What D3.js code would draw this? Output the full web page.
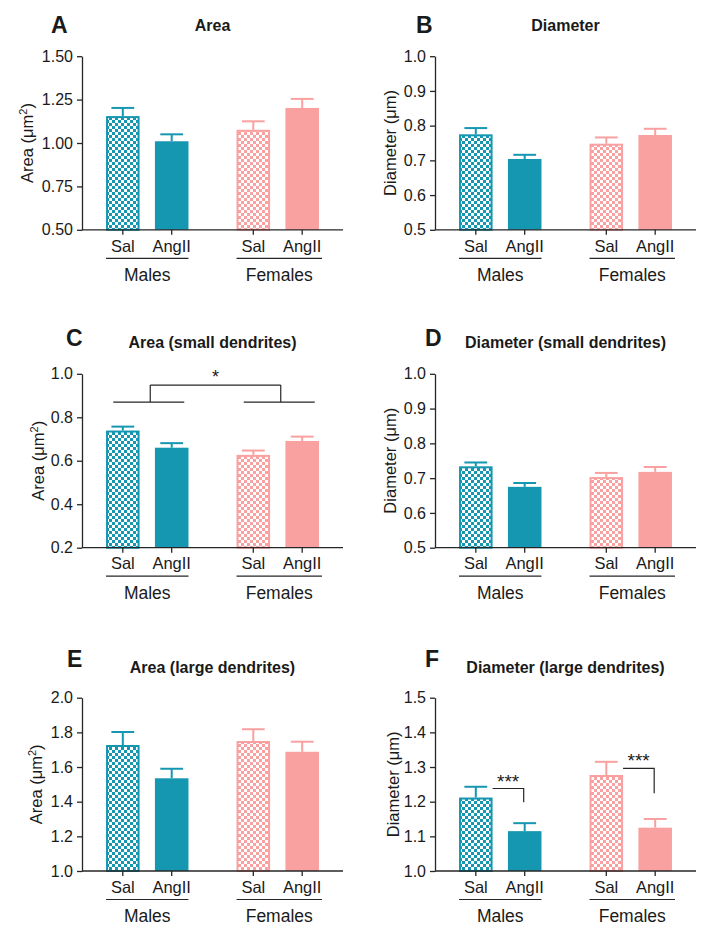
<!DOCTYPE html>
<html><head><meta charset="utf-8">
<script src="https://cdn.jsdelivr.net/npm/d3@7"></script>
<style>
body{margin:0;background:#fff}
svg{display:block}
text{font-family:Arial,"Liberation Sans",sans-serif;fill:#1a1a1a}
</style>
</head><body><svg id="chart" width="714" height="937"></svg>
<script>
// ---------- data ----------
const groups = ["Males", "Females"];
const treatments = ["Sal", "AngII"];
// order: Males-Sal, Males-AngII, Females-Sal, Females-AngII
const areaMean = [1.155, 1.010, 1.076, 1.202];
const areaErr = [0.047, 0.040, 0.049, 0.052];
const diameterMean = [0.775, 0.704, 0.748, 0.773];
const diameterErr = [0.018, 0.012, 0.018, 0.018];
const areaSmallMean = [0.739, 0.660, 0.627, 0.691];
const areaSmallErr = [0.018, 0.021, 0.020, 0.020];
const diameterSmallMean = [0.734, 0.675, 0.703, 0.718];
const diameterSmallErr = [0.011, 0.011, 0.012, 0.014];
const areaLargeMean = [1.727, 1.535, 1.750, 1.688];
const areaLargeErr = [0.075, 0.055, 0.068, 0.058];
const diameterLargeMean = [1.212, 1.115, 1.277, 1.125];
const diameterLargeErr = [0.031, 0.023, 0.038, 0.025];

const ticksArea = [0.50, 0.75, 1.00, 1.25, 1.50];
const ticksDiameter = [0.5, 0.6, 0.7, 0.8, 0.9, 1.0];
const ticksAreaSmall = [0.2, 0.4, 0.6, 0.8, 1.0];
const ticksDiameterSmall = [0.5, 0.6, 0.7, 0.8, 0.9, 1.0];
const ticksAreaLarge = [1.0, 1.2, 1.4, 1.6, 1.8, 2.0];
const ticksDiameterLarge = [1.0, 1.1, 1.2, 1.3, 1.4, 1.5];

// significance annotations
const sigBetweenGroups = [{ from: "Males", to: "Females", base: 0.870, top: 0.948, label: "*" }];
const sigWithinGroup = [
  { group: "Males", base: 1.198, top: 1.238, label: "***" },
  { group: "Females", base: 1.224, top: 1.296, label: "***" }
];

// ---------- layout ----------
const teal = "#1597b1", pink = "#f9a0a0";
const W = 261;
const rows = [
  { top: 56.2, bottom: 229.8, title: 31.3, letter: 33.3 },
  { top: 373.8, bottom: 547.7, title: 347.8, letter: 346 },
  { top: 697.7, bottom: 871, title: 672.5, letter: 666.7 }
];
const cols = [82, 435];

const panels = [
  { letter: "A", title: "Area", kind: "area", mean: areaMean, err: areaErr, ticks: ticksArea, fmt: ".2f", col: 0, row: 0, letterX: 51, labOff: 55 },
  { letter: "B", title: "Diameter", kind: "diam", mean: diameterMean, err: diameterErr, ticks: ticksDiameter, fmt: ".1f", col: 1, row: 0, letterX: 416, labOff: 45 },
  { letter: "C", title: "Area (small dendrites)", kind: "area", mean: areaSmallMean, err: areaSmallErr, ticks: ticksAreaSmall, fmt: ".1f", col: 0, row: 1, letterX: 66, labOff: 44, sigB: sigBetweenGroups },
  { letter: "D", title: "Diameter (small dendrites)", kind: "diam", mean: diameterSmallMean, err: diameterSmallErr, ticks: ticksDiameterSmall, fmt: ".1f", col: 1, row: 1, letterX: 425, labOff: 45 },
  { letter: "E", title: "Area (large dendrites)", kind: "area", mean: areaLargeMean, err: areaLargeErr, ticks: ticksAreaLarge, fmt: ".1f", col: 0, row: 2, letterX: 67, labOff: 46 },
  { letter: "F", title: "Diameter (large dendrites)", kind: "diam", mean: diameterLargeMean, err: diameterLargeErr, ticks: ticksDiameterLarge, fmt: ".1f", col: 1, row: 2, letterX: 425, labOff: 42, sigW: sigWithinGroup }
];

const svg = d3.select("#chart");
svg.append("rect").attr("width", 714).attr("height", 937).attr("fill", "#fff");

const defs = svg.append("defs");
[["chkTeal", teal], ["chkPink", pink]].forEach(([id, c]) => {
  const p = defs.append("pattern").attr("id", id).attr("width", 6).attr("height", 6)
    .attr("patternUnits", "userSpaceOnUse");
  p.append("rect").attr("width", 6).attr("height", 6).attr("fill", "#fff");
  p.append("rect").attr("width", 3).attr("height", 3).attr("fill", c);
  p.append("rect").attr("x", 3).attr("y", 3).attr("width", 3).attr("height", 3).attr("fill", c);
});

const axisColor = "#262626";
const FF = "Arial, 'Liberation Sans', sans-serif";

panels.forEach(p => {
  const r = rows[p.row];
  const ax = cols[p.col];
  const g = svg.append("g").attr("transform", `translate(${ax},0)`);
  const y = d3.scaleLinear().domain([p.ticks[0], p.ticks[p.ticks.length - 1]]).range([r.bottom, r.top]);
  const x0 = d3.scaleBand().domain(groups).range([0, W]).paddingInner(0.232).paddingOuter(0.116);
  const x1 = d3.scaleBand().domain(treatments).range([0, x0.bandwidth()]).paddingInner(0.314).paddingOuter(0.182);
  const bw = x1.bandwidth();

  const data = groups.flatMap((gr, gi) => treatments.map((t, ti) => ({
    group: gr, treat: t, mean: p.mean[gi * 2 + ti], err: p.err[gi * 2 + ti],
    color: gi === 0 ? teal : pink, pat: gi === 0 ? "url(#chkTeal)" : "url(#chkPink)", checker: ti === 0
  })));
  const bx = d => x0(d.group) + x1(d.treat);

  // error bars
  const eb = g.append("g");
  data.forEach(d => {
    const cx = bx(d) + bw / 2;
    eb.append("line").attr("x1", cx).attr("x2", cx).attr("y1", y(d.mean)).attr("y2", y(d.mean + d.err))
      .attr("stroke", d.color).attr("stroke-width", 2);
    eb.append("line").attr("x1", cx - bw * 0.34).attr("x2", cx + bw * 0.34)
      .attr("y1", y(d.mean + d.err)).attr("y2", y(d.mean + d.err))
      .attr("stroke", d.color).attr("stroke-width", 2);
  });

  // bars
  g.append("g").selectAll("rect").data(data).join("rect")
    .attr("x", d => d.checker ? bx(d) + 1 : bx(d))
    .attr("y", d => d.checker ? y(d.mean) + 1 : y(d.mean))
    .attr("width", d => d.checker ? bw - 2 : bw)
    .attr("height", d => d.checker ? r.bottom - y(d.mean) - 1 : r.bottom - y(d.mean))
    .attr("fill", d => d.checker ? d.pat : d.color)
    .attr("stroke", d => d.checker ? d.color : "none")
    .attr("stroke-width", 2);

  // y axis
  const yAx = g.append("g").call(d3.axisLeft(y).tickValues(p.ticks).tickFormat(d3.format(p.fmt))
    .tickSize(5).tickSizeOuter(0).tickPadding(4));
  yAx.selectAll("path,line").attr("stroke", axisColor).attr("stroke-width", 1.3);
  yAx.selectAll("text").attr("font-size", 16).attr("fill", "#1a1a1a").style("font-family", FF);

  // x baseline
  g.append("line").attr("x1", 0).attr("x2", W).attr("y1", r.bottom).attr("y2", r.bottom)
    .attr("stroke", axisColor).attr("stroke-width", 1.3);

  // x axes per group (treatment labels)
  groups.forEach(gr => {
    const xa = g.append("g").attr("transform", `translate(${x0(gr)},${r.bottom})`)
      .call(d3.axisBottom(x1).tickSize(5).tickPadding(5).tickSizeOuter(0));
    xa.select(".domain").remove();
    xa.selectAll("line").attr("stroke", axisColor).attr("stroke-width", 1.3);
    xa.selectAll("text").attr("font-size", 16.5).attr("fill", "#1a1a1a").style("font-family", FF);
    const lx1 = x0(gr) + x1("Sal");
    const lx2 = x0(gr) + x1("AngII") + bw + (gr === "Females" ? 3 : 0);
    g.append("line").attr("x1", lx1).attr("x2", lx2).attr("y1", r.bottom + 28.5).attr("y2", r.bottom + 28.5)
      .attr("stroke", axisColor).attr("stroke-width", 1.2);
    g.append("text").attr("x", (lx1 + lx2) / 2).attr("y", r.bottom + 51).attr("text-anchor", "middle")
      .attr("font-size", 17.5).text(gr);
  });

  // y label
  const yl = g.append("text").attr("transform", `translate(${-p.labOff},${(r.top + r.bottom) / 2}) rotate(-90)`)
    .attr("text-anchor", "middle").attr("dy", "0.35em").attr("font-size", 16.5);
  if (p.kind === "area") {
    yl.append("tspan").text("Area (μm");
    yl.append("tspan").attr("dy", -6).attr("font-size", 11).text("2");
    yl.append("tspan").attr("dy", 6).text(")");
  } else {
    yl.text("Diameter (μm)");
  }

  // title + letter
  g.append("text").attr("x", W / 2).attr("y", r.title).attr("text-anchor", "middle")
    .attr("font-size", 16).attr("font-weight", "bold").text(p.title);
  svg.append("text").attr("x", p.letterX).attr("y", r.letter).attr("font-size", 23)
    .attr("font-weight", "bold").attr("fill", "#000").text(p.letter);

  // significance between groups
  (p.sigB || []).forEach(s => {
    const c1 = x0(s.from) + x0.bandwidth() / 2, c2 = x0(s.to) + x0.bandwidth() / 2;
    const sg = g.append("g").attr("stroke", axisColor).attr("stroke-width", 1.2).attr("fill", "none");
    [c1, c2].forEach(c => {
      sg.append("line").attr("x1", c - 34).attr("x2", c + 37).attr("y1", y(s.base)).attr("y2", y(s.base));
      sg.append("line").attr("x1", c + 3).attr("x2", c + 3).attr("y1", y(s.base)).attr("y2", y(s.top));
    });
    sg.append("line").attr("x1", c1 + 3).attr("x2", c2 + 3).attr("y1", y(s.top)).attr("y2", y(s.top));
    g.append("text").attr("x", (c1 + c2) / 2 + 3).attr("y", y(s.top) - 2).attr("text-anchor", "middle")
      .attr("font-size", 18).text(s.label);
  });

  // significance within group
  (p.sigW || []).forEach(s => {
    const xs = x0(s.group) + x1("Sal") + bw;
    const xe = x0(s.group) + x1("AngII") + bw / 2 - 1;
    const sg = g.append("g").attr("stroke", axisColor).attr("stroke-width", 1.2).attr("fill", "none");
    sg.append("path").attr("d", `M${xs},${y(s.top)}H${xe}V${y(s.base)}`);
    g.append("text").attr("x", (xs + xe) / 2).attr("y", y(s.top) - 1).attr("text-anchor", "middle")
      .attr("font-size", 19).text(s.label);
  });
});
</script>
</body></html>
